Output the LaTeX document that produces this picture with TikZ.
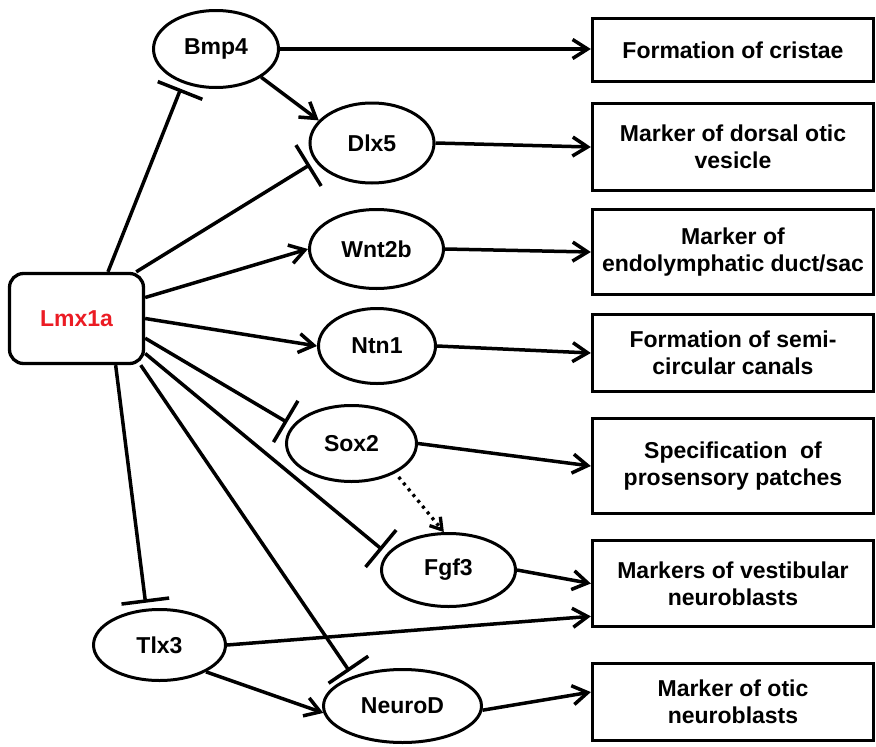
\documentclass[tikz,border=0pt]{standalone}
\usepackage{fontspec}
\setmainfont{Liberation Sans}
\usetikzlibrary{shapes.geometric,arrows.meta}
\definecolor{lmxred}{RGB}{235,28,36}
\begin{document}
\begin{tikzpicture}[x=1pt,y=-1pt,
  every node/.style={font=\bfseries\fontsize{23}{27}\selectfont, inner sep=0pt},
  gene/.style={draw, ellipse, line width=3pt},
  outbox/.style={draw, rectangle, line width=3.3pt, minimum width=281pt, align=center},
  act/.style={line width=3.5pt, -{Straight Barb[length=15pt,width=19pt]}},
  inh/.style={line width=3.5pt, -{Bar[width=48pt]}, shorten >=6pt},
  dotact/.style={line width=3.3pt, dash pattern=on 3pt off 4.5pt, shorten <=5pt, -{Straight Barb[length=11pt,width=14pt]}}
]
\useasboundingbox (0,0) rectangle (876,747);

\node[draw, rounded corners=14pt, line width=3.3pt, minimum width=134pt, minimum height=90pt, text=lmxred] (lmx) at (76.5,318.5) {Lmx1a};

\node[gene, minimum width=125pt, minimum height=77pt] (bmp4) at (216,49) {Bmp4};
\node[gene, minimum width=124pt, minimum height=80pt] (dlx5) at (372,143) {Dlx5};
\node[gene, minimum width=134pt, minimum height=79pt] (wnt2b) at (376.5,249) {Wnt2b};
\node[gene, minimum width=117pt, minimum height=75pt] (ntn1) at (377,346) {Ntn1};
\node[gene, minimum width=130pt, minimum height=76pt] (sox2) at (351.5,443.5) {Sox2};
\node[gene, minimum width=134pt, minimum height=73pt] (fgf3) at (448.5,570) {Fgf3};
\node[gene, minimum width=132pt, minimum height=71pt] (tlx3) at (159.5,645) {Tlx3};
\node[gene, minimum width=158pt, minimum height=73pt] (neurod) at (402.5,706) {NeuroD};

\node[outbox, minimum height=63pt] (b1) at (733,50) {Formation of cristae};
\node[outbox, minimum height=87pt] (b2) at (733,147) {Marker of dorsal otic\\vesicle};
\node[outbox, minimum height=85pt] (b3) at (733,252) {Marker of\\endolymphatic duct/sac};
\node[outbox, minimum height=77pt] (b4) at (733,353) {Formation of semi-\\circular canals};
\node[outbox, minimum height=95pt] (b5) at (733,466) {Specification\ \ of\\prosensory patches};
\node[outbox, minimum height=86pt] (b6) at (733,583.5) {Markers of vestibular\\neuroblasts};
\node[outbox, minimum height=77pt] (b7) at (733,702) {Marker of otic\\neuroblasts};

\draw[inh] (lmx.56) -- (bmp4.226);
\draw[inh] (lmx.38) -- (dlx5.198);
\draw[act] (lmx.17) -- (wnt2b.west);
\draw[act] (lmx.east) -- (ntn1.west);
\draw[inh] (lmx.-16) -- (sox2.163);
\draw[inh] (lmx.-27) -- (fgf3.165);
\draw[inh] (lmx.-36) -- (neurod.149);
\draw[inh] (lmx.-50) -- (tlx3.110);

\draw[act] (bmp4.east) -- (bmp4.east -| b1.west);
\draw[act] (bmp4.-32) -- (dlx5.157);
\draw[act] (dlx5.east) -- (b2.west);
\draw[act] (wnt2b.east) -- (b3.west);
\draw[act] (ntn1.east) -- (b4.west);
\draw[act] (sox2.east) -- (b5.west);
\draw[dotact] (sox2.-34) -- (fgf3.97);
\draw[act] (fgf3.east) -- (b6.west);
\draw[act] (tlx3.east) -- (b6.193);
\draw[act] (tlx3.-30) -- (neurod.185);
\draw[act] (neurod.-3) -- (b7.176);
\end{tikzpicture}
\end{document}
